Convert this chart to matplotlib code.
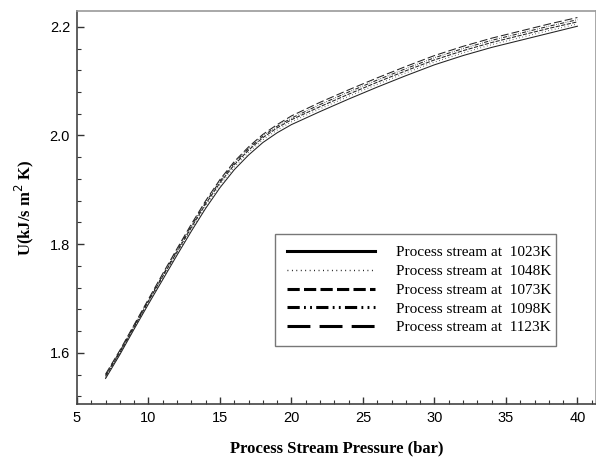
import matplotlib
matplotlib.use("Agg")
import matplotlib.pyplot as plt
from matplotlib.lines import Line2D
from matplotlib.ticker import MultipleLocator, FormatStrFormatter

# pressure (bar)
pressure = [7, 8, 9, 10, 11, 12, 13, 14, 15, 16, 17, 18, 19, 20,
            22, 24, 26, 28, 30, 32, 34, 36, 38, 40]

# overall heat transfer coefficient U for each process stream temperature
u_1023 = [1.553, 1.597, 1.644, 1.690, 1.735, 1.780, 1.824, 1.866, 1.904, 1.937, 1.964, 1.987,
          2.005, 2.020, 2.044, 2.067, 2.089, 2.110, 2.130, 2.147, 2.162, 2.175, 2.188, 2.201]
u_1048 = [1.555, 1.599, 1.646, 1.693, 1.738, 1.783, 1.828, 1.870, 1.909, 1.942, 1.969, 1.992,
          2.010, 2.025, 2.049, 2.072, 2.094, 2.115, 2.135, 2.152, 2.167, 2.180, 2.193, 2.205]
u_1073 = [1.557, 1.601, 1.648, 1.695, 1.741, 1.786, 1.831, 1.874, 1.913, 1.946, 1.973, 1.996,
          2.014, 2.029, 2.053, 2.076, 2.098, 2.119, 2.139, 2.156, 2.171, 2.184, 2.197, 2.209]
u_1098 = [1.559, 1.603, 1.650, 1.697, 1.743, 1.789, 1.834, 1.877, 1.916, 1.949, 1.976, 1.999,
          2.017, 2.032, 2.057, 2.080, 2.102, 2.123, 2.143, 2.160, 2.175, 2.188, 2.201, 2.213]
u_1123 = [1.561, 1.605, 1.652, 1.699, 1.746, 1.792, 1.837, 1.880, 1.919, 1.952, 1.979, 2.002,
          2.020, 2.036, 2.061, 2.084, 2.106, 2.127, 2.147, 2.164, 2.179, 2.192, 2.205, 2.217]

labels = ["Process stream at  1023K", "Process stream at  1048K",
          "Process stream at  1073K", "Process stream at  1098K",
          "Process stream at  1123K"]
series = [u_1023, u_1048, u_1073, u_1098, u_1123]
styles = ["-", (0, (0.6, 2.6)), (0, (4, 1.4)), (0, (4, 1.4, 0.6, 1.4, 0.6, 1.4)), (0, (7.5, 3))]
legend_widths = [2.2, 1.0, 2.2, 2.2, 2.2]

fig = plt.figure(figsize=(5.96, 4.63), dpi=100)
ax = fig.add_axes([77 / 596, 59 / 463, 519 / 596, 393 / 463])

for vals, ls in zip(series, styles):
    ax.plot(pressure, vals, color="#222222", linestyle=ls, linewidth=0.75)

ax.set_xlim(5, 41.3)
ax.set_ylim(1.506, 2.229)
ax.xaxis.set_major_locator(MultipleLocator(5))
ax.xaxis.set_minor_locator(MultipleLocator(1))
ax.yaxis.set_major_locator(MultipleLocator(0.2))
ax.yaxis.set_minor_locator(MultipleLocator(0.04))
ax.yaxis.set_major_formatter(FormatStrFormatter("%.1f"))
ax.tick_params(which="major", direction="in", length=5, width=1, color="#333333")
ax.tick_params(which="minor", direction="in", length=3, width=0.8, color="#333333")
ax.tick_params(axis="both", labelsize=10.5, pad=5)
for t in ax.get_xticklabels() + ax.get_yticklabels():
    t.set_family("Liberation Sans")

for side in ["left", "bottom"]:
    ax.spines[side].set_color("#444444")
    ax.spines[side].set_linewidth(1.2)
for side in ["top", "right"]:
    ax.spines[side].set_color("#999999")
    ax.spines[side].set_linewidth(1.2)

ax.set_xlabel("Process Stream Pressure (bar)", family="Liberation Serif",
              fontweight="bold", fontsize=12, labelpad=11)
ax.set_ylabel("U(kJ/s m$^2$ K)", family="Liberation Serif",
              fontweight="bold", fontsize=12, labelpad=10)

# legend handles drawn heavier than the curves, as in the original
handles = [Line2D([], [], color="black", linestyle=ls, linewidth=lw)
           for ls, lw in zip(styles, legend_widths)]
leg = ax.legend(handles, labels, loc="lower left",
                bbox_to_anchor=(0.382, 0.148, 0.54, 0.302),
                mode="expand", fancybox=False, frameon=True, handlelength=5.8,
                handletextpad=1.35, borderpad=0.75, labelspacing=0.33,
                borderaxespad=0.0,
                prop={"family": "Liberation Serif", "size": 11})
leg.get_frame().set_edgecolor("#555555")
leg.get_frame().set_linewidth(1.0)

fig.savefig("out.png", dpi=100)
